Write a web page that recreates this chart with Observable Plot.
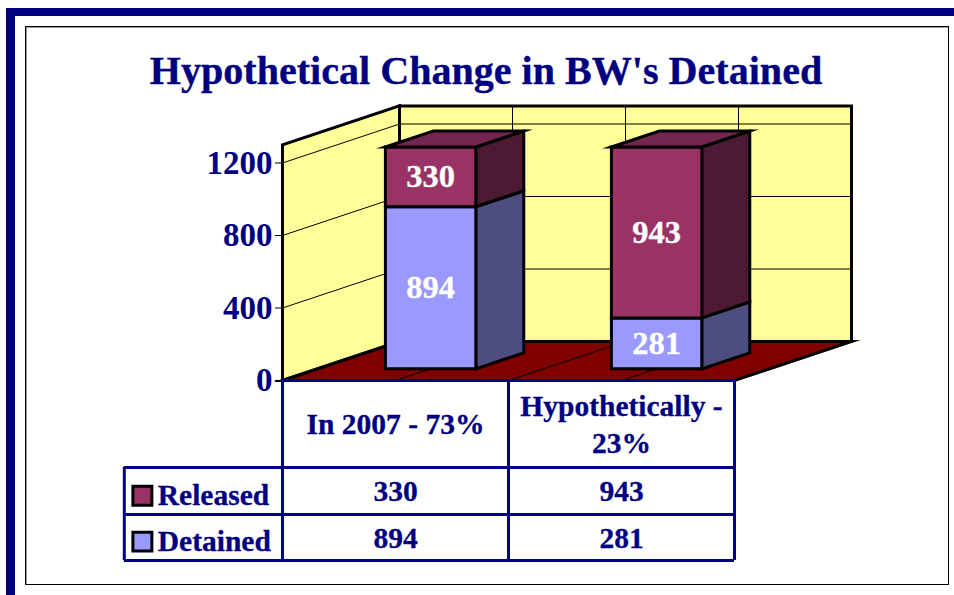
<!DOCTYPE html>
<html><head><meta charset="utf-8">
<script src="https://cdn.jsdelivr.net/npm/d3@7"></script>
<script src="https://cdn.jsdelivr.net/npm/@observablehq/plot@0.6"></script>
<style>
html,body{margin:0;padding:0;background:#fff;width:954px;height:595px;overflow:hidden}
#band{position:absolute;left:6px;top:8px;width:948px;height:587px;background:#000080}
#bandIn{position:absolute;left:15px;top:16px;width:939px;height:579px;background:#fff}
#panel{position:absolute;left:25px;top:26px;width:922px;height:557px;border:1px solid #000;box-shadow:inset 1px 1px 0 #999}
#title{position:absolute;left:0;top:47px;width:972px;text-align:center;font:bold 40.1px "Liberation Serif",serif;color:#000080;white-space:nowrap;-webkit-text-stroke:0.3px #000080}
#chart{position:absolute;left:0;top:0}
</style></head><body>
<div id="band"></div><div id="bandIn"></div><div id="panel"></div>
<div id="title">Hypothetical Change in BW's Detained</div>
<div id="chart"></div>
<script>
const categories = ["In 2007 - 73%", "Hypothetically -\n23%"];
const released = [330, 943];
const detained = [894, 281];
const yTicks = [0, 400, 800, 1200];
const seriesNames = ["Released", "Detained"];
const seriesColors = ["#993366", "#9999FF"];
const sideColors = ["#4D1A33", "#4D4D80"];
const topColor = "#732650";
const navy = "#000080";
const wallTop = 1300;

// Oblique projection: depth 1 shifts the point right and up in scale units.
const DX = 0.5177, DY = 215;
const P = (x, y, z) => ({x: x + z * DX, y: y + z * DY});
const face = (pts, fill, sw = 3) => Plot.line(pts, {
  x: "x", y: "y", curve: "linear-closed", fill, stroke: "black",
  strokeWidth: sw, strokeLinejoin: "miter", strokeMiterlimit: 10
});

const serif = "Liberation Serif";
const heavy = {fontWeight: "bold", fontFamily: serif, strokeWidth: 0.3};
const marks = [];

// walls and floor
marks.push(face([P(0,0,0),P(0,wallTop,0),P(0,wallTop,1),P(0,0,1)], "#FFFF99"));
marks.push(face([P(0,0,1),P(0,wallTop,1),P(2,wallTop,1),P(2,0,1)], "#FFFF99"));
marks.push(face([P(0,0,0),P(0,0,1),P(2,0,1),P(2,0,0)], "#800000"));

// gridlines
const gridV = yTicks.slice(1);
const gridX = [0.5, 1, 1.5];
const seg = (a, b) => Plot.line([a, b], {x: "x", y: "y", stroke: "black", strokeWidth: 1});
for (const v of gridV) {
  marks.push(seg(P(0,v,0), P(0,v,1)));
  marks.push(seg(P(0,v,1), P(2,v,1)));
}
for (const c of gridX) {
  marks.push(seg(P(c,0,0), P(c,0,1)));
  marks.push(seg(P(c,0,1), P(c,wallTop,1)));
}

// bars
const barW = 0.2, z0 = 0.3, z1 = 0.71;
categories.forEach((_, i) => {
  const cx = i + 0.5, l = cx - barW, r = cx + barW;
  const stack = [
    {lo: 0, hi: detained[i], s: 1},
    {lo: detained[i], hi: detained[i] + released[i], s: 0}
  ];
  for (const {lo, hi, s} of stack) {
    marks.push(face([P(r,lo,z0),P(r,hi,z0),P(r,hi,z1),P(r,lo,z1)], sideColors[s]));
    marks.push(face([P(l,lo,z0),P(l,hi,z0),P(r,hi,z0),P(r,lo,z0)], seriesColors[s]));
  }
  const top = detained[i] + released[i];
  marks.push(face([P(l,top,z0),P(l,top,z1),P(r,top,z1),P(r,top,z0)], topColor));
});

// value labels on the bars
const barLabels = [];
categories.forEach((_, i) => {
  const b = P(i + 0.5, 0, z0);
  barLabels.push({x: b.x, y: b.y + detained[i] / 2, t: String(detained[i])});
  barLabels.push({x: b.x, y: b.y + detained[i] + released[i] / 2, t: String(released[i])});
});
marks.push(Plot.text(barLabels, {x: "x", y: "y", text: "t", fill: "white", stroke: "white", fontSize: 32.5, ...heavy}));

// y axis
marks.push(Plot.axisY(yTicks, {
  anchor: "left", label: null, tickFormat: d => String(d), tickSize: 7, tickPadding: 3,
  stroke: "black", color: navy, fill: navy, fontSize: 33, fontWeight: "bold", fontFamily: serif
}));

// data table under the plot, laid out in scale units
const colEdges = [0, 1, 2];
const legendLeft = -0.7;
const rowEdges = [-480, -739, -993];
const rowCenters = [-613, -874];
const legendCenters = [-636, -889];
const tableLine = {stroke: navy, strokeWidth: 3};
marks.push(Plot.ruleY([0], {x1: 0, x2: 2, ...tableLine}));
marks.push(Plot.ruleY(rowEdges, {x1: legendLeft, x2: 2, ...tableLine}));
marks.push(Plot.ruleX(colEdges, {y1: 0, y2: rowEdges[2], ...tableLine}));
marks.push(Plot.ruleX([legendLeft], {y1: rowEdges[0], y2: rowEdges[2], ...tableLine}));

marks.push(Plot.text(categories, {
  x: (d, i) => i + 0.5, y: -232, text: d => d, fill: navy, stroke: navy,
  fontSize: 29.5, lineHeight: 1.24, ...heavy
}));
[released, detained].forEach((vals, r) => {
  marks.push(Plot.text(vals, {
    x: (d, i) => i + 0.5, y: rowCenters[r], text: d => String(d), fill: navy, stroke: navy,
    fontSize: 29.5, ...heavy
  }));
});
marks.push(Plot.dot(seriesNames, {
  x: -0.62, y: (d, i) => legendCenters[i], symbol: "square", r: 10.7,
  fill: (d, i) => seriesColors[i], stroke: "black", strokeWidth: 3
}));
marks.push(Plot.text(seriesNames, {
  x: -0.552, y: (d, i) => legendCenters[i], text: d => d, textAnchor: "start", fill: navy, stroke: navy,
  fontSize: 29.5, ...heavy
}));

const chart = Plot.plot({
  width: 954, height: 595,
  marginLeft: 282, marginTop: 0, marginRight: 0, marginBottom: 0,
  style: {background: "transparent", overflow: "visible"},
  x: {axis: null, domain: [0, 2], range: [282, 734]},
  y: {axis: null, domain: [0, 1200], range: [380, 162.5]},
  color: {type: "identity"},
  marks
});
document.getElementById("chart").appendChild(chart);
</script>
</body></html>
